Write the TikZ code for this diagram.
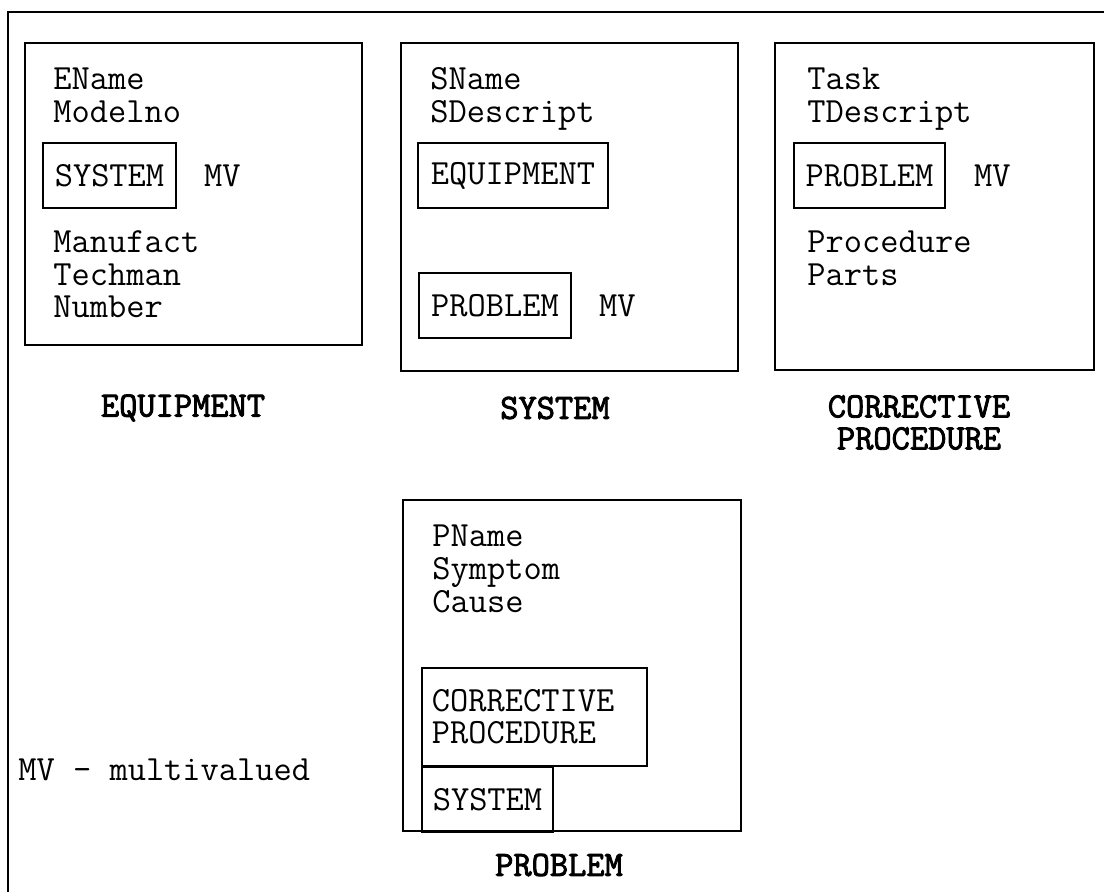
\documentclass[tikz,border=0pt]{standalone}
\usepackage{fontspec}
\setmonofont{Latin Modern Mono}[BoldFont={Latin Modern Mono}, BoldFeatures={FakeBold=2.5}]
\usetikzlibrary{positioning}

\begin{document}
\begin{tikzpicture}[x=0.5bp, y=-0.5bp,
    every node/.style={font=\ttfamily\fontsize{17.7bp}{16.5bp}\selectfont},
    entity/.style={rectangle, draw, line width=0.8bp, inner sep=0pt},
    nested/.style={rectangle, draw, line width=0.7bp, minimum height=32.5bp, inner sep=0pt},
    attr/.style={anchor=base west, inner sep=0pt},
    mv/.style={anchor=west, inner sep=0pt},
    caption/.style={font=\ttfamily\bfseries\fontsize{17.7bp}{16bp}\selectfont, align=center, inner sep=0pt}]
    \useasboundingbox (0,0) rectangle (1104,892);

    % Frame
    \draw[line width=1bp] (8,892) -- (8,12) -- (1104,12);

    % Entity boxes
    \node[entity, minimum width=168.5bp, minimum height=151bp] (equip) at (193.5,194) {};
    \node[entity, minimum width=168.5bp, minimum height=164bp] (system) at (569.5,207) {};
    \node[entity, minimum width=159.5bp, minimum height=163.5bp] (corrective) at (934.5,206.5) {};
    \node[entity, minimum width=169bp, minimum height=165.5bp] (problem) at (572,665.5) {};

    % Attributes
    \foreach \x/\y/\t [count=\i] in {53/89/EName, 53/122/Modelno, 53/252/Manufact, 53/285/Techman, 53/317/Number,
        430/89/SName, 430/122/SDescript,
        807/89/Task, 807/122/TDescript, 807/252/Procedure, 807/285/Parts,
        432/546/PName, 432/579/Symptom, 432/612/Cause}
        \node[attr] (attr-\i) at (\x,\y) {\t};

    % Nested entities
    \node[nested, minimum width=66.5bp] (eqsys) at (109.5,175.5) {SYSTEM};
    \node[mv, right=13.5bp of eqsys] (eqmv) {MV};
    \node[nested, minimum width=95bp] (syseq) at (513,175.5) {EQUIPMENT};
    \node[nested, minimum width=76bp] (sysprob) at (495,305.5) {PROBLEM};
    \node[mv, right=13.5bp of sysprob] (sysmv) {MV};
    \node[nested, minimum width=75.5bp] (cpprob) at (869.5,175.5) {PROBLEM};
    \node[mv, right=14bp of cpprob] (cpmv) {MV};
    \node[nested, minimum height=49bp, text width=102.5bp, inner xsep=5bp, align=left, font=\ttfamily\fontsize{17.7bp}{16bp}\selectfont] (probcp) at (534.5,717) {CORRECTIVE\\PROCEDURE};
    \node[nested, minimum width=65.5bp, anchor=north west] (probsys) at (probcp.south west) {SYSTEM};

    % Legend
    \node[mv] (legend) at (18,770) {MV - multivalued};

    % Captions
    \node[caption] (equipcap) at (183,408) {EQUIPMENT};
    \node[caption] (syscap) at (555,408) {SYSTEM};
    \node[caption] (cpcap) at (919,422.5) {CORRECTIVE\\PROCEDURE};
    \node[caption] (probcap) at (559,865) {PROBLEM};
\end{tikzpicture}
\end{document}
